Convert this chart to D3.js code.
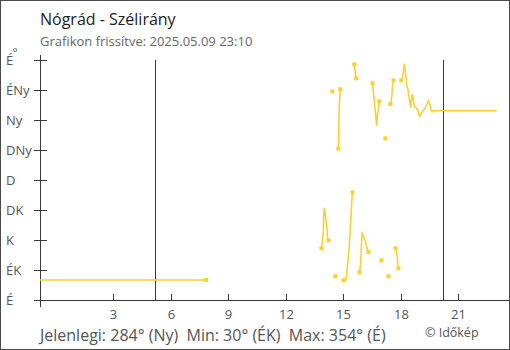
<!DOCTYPE html>
<html><head><meta charset="utf-8">
<script src="https://cdn.jsdelivr.net/npm/d3@7"></script>
<style>
html,body{margin:0;padding:0;background:#fff;}
svg{display:block;font-family:"Open Sans",sans-serif;}
</style></head>
<body><svg id="c" width="510" height="350"></svg>
<script>
// ---- data ----
const title = "Nógrád - Szélirány";
const subtitle = "Grafikon frissítve: 2025.05.09 23:10";
const footer = "Jelenlegi: 284° (Ny)  Min: 30° (ÉK)  Max: 354° (É)";
const credit = "© Időkép";
const dirTicks = [0, 45, 90, 135, 180, 225, 270, 315, 360];
const dirLabels = ["É", "ÉK", "K", "DK", "D", "DNy", "Ny", "ÉNy", "É"];
const hourTicks = [3, 6, 9, 12, 15, 18, 21];
const domainStart = "2025-05-08 23:10";
const domainEnd = "2025-05-09 23:10";
const sunTimes = ["2025-05-09 05:10", "2025-05-09 20:10"];
// time (HH:MM on 2025-05-09 unless full date given) and wind direction (°); null = gap
const times = [
  "2025-05-08 23:10","07:50","08:00",
  "13:51","13:54","13:57","13:58","14:00","14:02","14:05","14:08","14:10","14:13","14:20",
  "14:25","14:30",
  "14:35","14:40",
  "14:44","14:45","14:47","14:50","14:55",
  "15:00","15:07","15:10","15:13","15:17","15:20","15:23","15:26","15:28","15:31",
  "15:34","15:35","15:38","15:40","15:45",
  "15:50","15:53","15:55","15:57","15:59","16:01","16:05","16:08","16:11","16:14","16:18","16:25",
  "16:31","16:33","16:36","16:39","16:42","16:44","16:47","16:51","16:52","16:55",
  "16:59","17:05",
  "17:11","17:16",
  "17:21","17:24",
  "17:27","17:29","17:32","17:34","17:37","17:40",
  "17:43","17:46","17:49","17:50","17:52","17:56",
  "18:01","18:04","18:07","18:09","18:11","18:13","18:15","18:18","18:22","18:25","18:28","18:31",
  "18:34","18:37","18:40","18:43","18:50","18:53","18:56","18:58","19:02","19:06","19:11","19:15",
  "19:19","19:23","19:26","19:31","19:34","19:38","19:41","20:30","21:30","22:30","23:00"
];
const directions = [
  30,30,null,
  77.5,87.5,105,127.5,137.5,131.5,120,107.5,95,89.5,null,
  313,null,
  35.5,null,
  227,248,293,316,null,
  29.5,29.5,37.5,55,72.5,95,121,147.5,161.5,null,
  353.5,349,337,332.5,null,
  41.5,50,70,90,101.5,97.5,92.5,88.5,84,77.5,72,null,
  325,316,301,286,271,262,280,292.5,298,null,
  59.5,null,
  242.5,null,
  35.5,null,
  294,297,310,322.5,329.5,null,
  77.5,72.5,62.5,52.5,47.5,null,
  329.5,332.5,340,347.5,353.5,347.5,336,323.5,315,304,296,289,
  307.5,307.5,295,289,287.5,284,280,275,279,282,285,287,
  291,296,299,292.5,286,282,284,284,284,284,284
];

// ---- chart ----
const parse = d3.timeParse("%Y-%m-%d %H:%M");
const toDate = s => s.length > 5 ? parse(s) : parse("2025-05-09 " + s);
const data = times.map((t, i) => ({t: toDate(t), v: directions[i]}));

const svg = d3.select("#c");
const W = 510, H = 350;
const x = d3.scaleTime().domain([parse(domainStart), parse(domainEnd)]).range([40, 500]);
const y = d3.scaleLinear().domain([0, 360]).range([300, 60]);
const axisCol = "#3a3a3a", txtCol = "#555", lineCol = "#f9d130";

// frame
svg.append("rect").attr("x", 0.5).attr("y", 0.5).attr("width", W - 1).attr("height", H - 1)
  .attr("fill", "none").attr("stroke", "#4a4a4a");

// titles
svg.append("text").attr("x", 40).attr("y", 25).attr("font-size", 16).attr("fill", "#222").text(title);
svg.append("text").attr("x", 40).attr("y", 45.5).attr("font-size", 13).attr("fill", "#666").text(subtitle);

// sunrise / sunset lines
svg.selectAll(".sun").data(sunTimes).enter().append("line")
  .attr("x1", d => Math.round(x(parse(d))) + 0.5).attr("x2", d => Math.round(x(parse(d))) + 0.5)
  .attr("y1", 60).attr("y2", 300).attr("stroke", axisCol).attr("stroke-width", 1);

// y axis
const yAxis = svg.append("g");
yAxis.append("line").attr("x1", 40.5).attr("x2", 40.5).attr("y1", 55).attr("y2", 307).attr("stroke", axisCol);
dirTicks.forEach((d, i) => {
  const yy = Math.round(y(d)) + 0.5;
  yAxis.append("line").attr("x1", 34).attr("x2", 47).attr("y1", yy).attr("y2", yy).attr("stroke", axisCol);
  yAxis.append("text").attr("x", 6).attr("y", yy + 4).attr("font-size", 13).attr("fill", txtCol).text(dirLabels[i]);
});
yAxis.append("text").attr("x", 12.5).attr("y", 56.5).attr("font-size", 12).attr("fill", txtCol).text("°");

// x axis
const xAxis = svg.append("g");
xAxis.append("line").attr("x1", 40).attr("x2", 509).attr("y1", 300.5).attr("y2", 300.5).attr("stroke", axisCol);
hourTicks.forEach(h => {
  const xx = Math.round(x(d3.timeHour.offset(parse("2025-05-09 00:00"), h))) + 0.5;
  xAxis.append("line").attr("x1", xx).attr("x2", xx).attr("y1", 294).attr("y2", 300).attr("stroke", axisCol);
  xAxis.append("text").attr("x", xx).attr("y", 319).attr("text-anchor", "middle")
    .attr("font-size", 13).attr("fill", txtCol).text(h);
});

// series line
const line = d3.line().defined(d => d.v != null).x(d => x(d.t)).y(d => y(d.v));
svg.append("path").datum(data).attr("d", line).attr("fill", "none")
  .attr("stroke", lineCol).attr("stroke-width", 1.6).attr("stroke-linejoin", "round");

// markers at segment ends next to gaps
const marks = data.filter((d, i) => d.v != null &&
  ((i > 0 && data[i - 1].v == null) || (i < data.length - 1 && data[i + 1].v == null)));
svg.selectAll(".m").data(marks).enter().append("rect")
  .attr("x", d => x(d.t) - 2).attr("y", d => y(d.v) - 2).attr("width", 4).attr("height", 4)
  .attr("fill", lineCol);

// footer
svg.append("text").attr("x", 40).attr("y", 341).attr("font-size", 16).attr("fill", txtCol)
  .style("white-space", "pre").text(footer);
svg.append("text").attr("x", 425).attr("y", 336.5).attr("font-size", 12.5).attr("fill", txtCol).text(credit);
</script></body></html>
